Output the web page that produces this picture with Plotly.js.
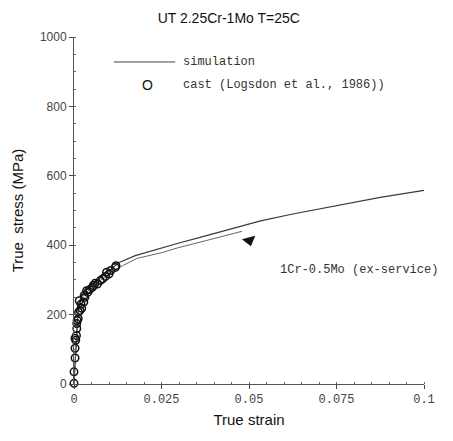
<!DOCTYPE html>
<html>
<head>
<meta charset="utf-8">
<script src="https://cdn.plot.ly/plotly-3.0.1.min.js"></script>
<style>html,body{margin:0;padding:0;background:#fff;}#chart{width:453px;height:441px;}</style>
</head>
<body>
<div id="chart"></div>
<script>
// Simulation curve (2.25Cr-1Mo)
const simStrain = [0, 0.0003, 0.0008, 0.0012, 0.002, 0.003, 0.005, 0.0075, 0.01, 0.0129, 0.0175, 0.0253, 0.0295, 0.0376, 0.0476, 0.0533, 0.0625, 0.075, 0.0875, 0.1];
const simStress = [0, 60, 160, 225, 250, 265, 285, 305, 325, 350, 370, 393, 405, 427, 455, 470, 490, 515, 538, 558];

// 1Cr-0.5Mo (ex-service) curve
const exStrain = [0, 0.0003, 0.0008, 0.0012, 0.002, 0.003, 0.005, 0.0075, 0.01, 0.0139, 0.018, 0.0253, 0.0295, 0.0376, 0.0425, 0.048];
const exStress = [0, 60, 160, 220, 245, 258, 278, 298, 318, 341, 362, 379, 392, 413, 425, 440];

// Cast data (Logsdon et al., 1986)
const castStrain = [0, 0, 0.0003, 0.0003, 0.0005, 0.0003, 0.0007, 0.0008, 0.0008, 0.0009, 0.0012, 0.0013, 0.0017, 0.0022, 0.002, 0.0015, 0.0028, 0.0031, 0.0029, 0.0039, 0.0036, 0.0045, 0.0053, 0.0055, 0.006, 0.0067, 0.0075, 0.0082, 0.009, 0.01, 0.0093, 0.0105, 0.0118, 0.012];
const castStress = [2, 35, 75, 103, 126, 132, 140, 160, 174, 183, 188, 207, 212, 218, 230, 240, 236, 250, 255, 264, 269, 272, 279, 284, 290, 288, 298, 303, 310, 317, 322, 327, 336, 341];

// Arrow marker
const arrowStrain = [0.0501];
const arrowStress = [414];

const xTickVals = [0, 0.025, 0.05, 0.075, 0.1];
const xTickText = ['0', '0.025', '0.05', '0.075', '0.1'];
const yTickVals = [0, 200, 400, 600, 800, 1000];

const traces = [
  {x: simStrain, y: simStress, mode: 'lines', line: {color: '#3a3a3a', width: 1.2}, hoverinfo: 'skip', cliponaxis: false},
  {x: exStrain, y: exStress, mode: 'lines', line: {color: '#666', width: 1}, hoverinfo: 'skip', cliponaxis: false},
  {x: castStrain, y: castStress, mode: 'markers', cliponaxis: false,
   marker: {symbol: 'circle-open', size: 7.5, color: '#111', line: {width: 1.5, color: '#111'}}},
  {x: arrowStrain, y: arrowStress, mode: 'markers', cliponaxis: false,
   marker: {symbol: 'triangle-down', size: 12, angle: -15, color: '#111'}}
];

const monoFont = {family: 'Liberation Mono, DejaVu Sans Mono, monospace', size: 12, color: '#333'};

const layout = {
  width: 453, height: 441,
  margin: {l: 74, r: 29, t: 37, b: 57},
  paper_bgcolor: '#fff', plot_bgcolor: '#fff',
  showlegend: false,
  title: {text: 'UT 2.25Cr-1Mo T=25C', x: 0.505, xanchor: 'center', y: 0.958, yanchor: 'middle',
          font: {family: 'Liberation Sans, Arial, sans-serif', size: 14, color: '#111'}},
  xaxis: {
    range: [0, 0.1], showgrid: false, zeroline: false,
    showline: true, linecolor: '#555', linewidth: 1,
    tickvals: xTickVals, ticktext: xTickText,
    ticks: 'outside', ticklen: 4, tickcolor: '#444', tickwidth: 1,
    minor: {dtick: 0.005, ticks: 'inside', ticklen: 2, tickcolor: '#666'},
    tickfont: {family: 'Liberation Mono, DejaVu Sans Mono, monospace', size: 12, color: '#444'},
    title: {text: 'True strain', standoff: 8, font: {family: 'Liberation Sans, Arial, sans-serif', size: 15, color: '#111'}}
  },
  yaxis: {
    range: [0, 1000], showgrid: false, zeroline: false,
    showline: true, linecolor: '#555', linewidth: 1,
    tickvals: yTickVals,
    ticks: 'outside', ticklen: 4, tickcolor: '#444', tickwidth: 1,
    minor: {dtick: 50, ticks: 'inside', ticklen: 2, tickcolor: '#666'},
    tickfont: {family: 'Liberation Sans, Arial, sans-serif', size: 12, color: '#444'},
    title: {text: 'True  stress (MPa)', standoff: 12, font: {family: 'Liberation Sans, Arial, sans-serif', size: 15, color: '#111'}}
  },
  shapes: [
    {type: 'line', xref: 'paper', yref: 'paper', x0: 0.114, x1: 0.289, y0: 0.928, y1: 0.928,
     line: {color: '#444', width: 1}}
  ],
  annotations: [
    {xref: 'paper', yref: 'paper', x: 0.305, y: 0.928, xanchor: 'left', yanchor: 'middle', showarrow: false,
     text: 'simulation', font: monoFont},
    {xref: 'paper', yref: 'paper', x: 0.209, y: 0.862, xanchor: 'center', yanchor: 'middle', showarrow: false,
     text: 'O', font: {family: 'Liberation Sans, Arial, sans-serif', size: 14, color: '#111'}},
    {xref: 'paper', yref: 'paper', x: 0.307, y: 0.862, xanchor: 'left', yanchor: 'middle', showarrow: false,
     text: 'cast (Logsdon et al., 1986))', font: monoFont},
    {xref: 'paper', yref: 'paper', x: 0.583, y: 0.329, xanchor: 'left', yanchor: 'middle', showarrow: false,
     text: '1Cr-0.5Mo (ex-service)', font: monoFont}
  ]
};

Plotly.newPlot('chart', traces, layout, {staticPlot: true, displayModeBar: false});
</script>
</body>
</html>
